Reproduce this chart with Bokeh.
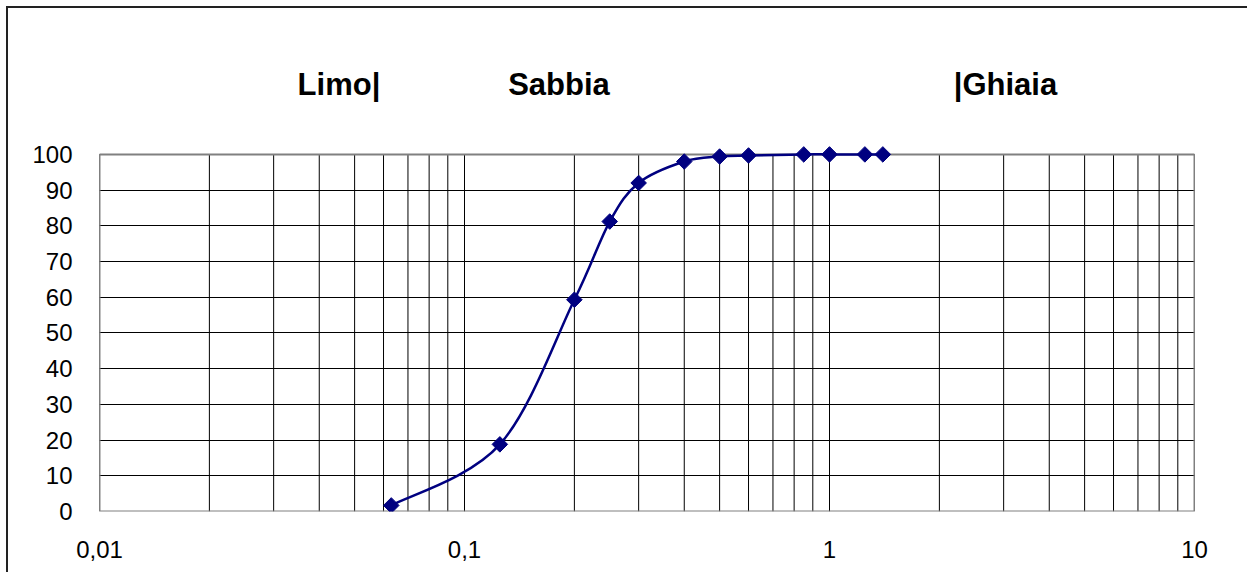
import numpy as np
from bokeh.plotting import figure
from bokeh.models import FixedTicker, Range1d
from bokeh.core.properties import value
from bokeh.embed import file_html
from bokeh.resources import INLINE

# --- data ---
diameters = [0.063, 0.125, 0.2, 0.25, 0.3, 0.4, 0.5, 0.6, 0.85, 1.0, 1.25, 1.4]
passing = [1.7, 18.8, 59.3, 81.2, 92.0, 98.0, 99.4, 99.7, 100.0, 100.0, 100.0, 100.0]
x_ticks = [0.01, 0.1, 1, 10]
x_tick_labels = ["0,01", "0,1", "1", "10"]
y_ticks = list(range(0, 101, 10))
zone_labels = ["Limo|", "Sabbia", "|Ghiaia"]
zone_label_x = [0.0453, 0.1815, 3.035]

FONT = "Liberation Sans"
NAVY = "#000080"
X_MIN, X_MAX, Y_MIN, Y_MAX = 0.01, 10, 0, 100
Y_TOP = 143.1  # extra room above the plot box for the zone labels

p = figure(width=1247, height=572, x_axis_type="log",
           x_range=Range1d(X_MIN, X_MAX), y_range=Range1d(Y_MIN, Y_TOP),
           output_backend="svg", toolbar_location=None,
           min_border_left=99, min_border_right=53,
           min_border_top=0, min_border_bottom=61)
# outer chart border (top and left edges visible), drawn as element background
p.styles = {
    "background": ("linear-gradient(#222,#222) 6px 6px / 100% 2px no-repeat, "
                   "linear-gradient(#222,#222) 6px 6px / 2px 100% no-repeat, white"),
}

p.background_fill_color = None
p.border_fill_color = None
p.outline_line_color = None

# grid
grid_x = []
for dec in [0.01, 0.1, 1]:
    for m in range(1, 10):
        grid_x.append(dec * m)
grid_x.append(10)
p.xgrid.visible = False
p.ygrid.ticker = FixedTicker(ticks=y_ticks)
p.ygrid.grid_line_color = "black"
p.ygrid.grid_line_width = 1
p.segment(x0=grid_x, y0=[Y_MIN] * len(grid_x), x1=grid_x, y1=[Y_MAX] * len(grid_x),
          line_color="black", line_width=1)
p.quad(left=[X_MIN], right=[X_MAX], bottom=[Y_MIN], top=[Y_MAX],
       fill_color=None, line_color="#808080", line_width=2)

# axes
p.xaxis.ticker = FixedTicker(ticks=x_ticks)
p.xaxis.major_label_overrides = {t: l for t, l in zip(x_ticks, x_tick_labels)}
p.yaxis.ticker = FixedTicker(ticks=y_ticks)
for ax in (p.xaxis, p.yaxis):
    ax.axis_line_color = None
    ax.major_tick_line_color = None
    ax.minor_tick_line_color = None
    ax.major_label_text_font = FONT
    ax.major_label_text_font_size = "24px"
    ax.major_label_text_color = "black"
p.xaxis.major_label_standoff = 23
p.yaxis.major_label_standoff = 21

# smoothed curve (Catmull-Rom -> cubic Bezier in log-x / linear-y space)
lx = np.log10(np.array(diameters))
yy = np.array(passing)
n = len(lx)
x0, y0, x1, y1, cx0, cy0, cx1, cy1 = [], [], [], [], [], [], [], []
for i in range(n - 1):
    i0 = max(i - 1, 0)
    i3 = min(i + 2, n - 1)
    ax_, ay_ = lx[i], yy[i]
    bx_, by_ = lx[i + 1], yy[i + 1]
    c1x = ax_ + (bx_ - lx[i0]) / 6.0
    c1y = ay_ + (by_ - yy[i0]) / 6.0
    c2x = bx_ - (lx[i3] - ax_) / 6.0
    c2y = by_ - (yy[i3] - ay_) / 6.0
    x0.append(10 ** ax_); y0.append(ay_)
    x1.append(10 ** bx_); y1.append(by_)
    cx0.append(10 ** c1x); cy0.append(c1y)
    cx1.append(10 ** c2x); cy1.append(c2y)

p.bezier(x0=x0, y0=y0, x1=x1, y1=y1, cx0=cx0, cy0=cy0, cx1=cx1, cy1=cy1,
         line_color=NAVY, line_width=2.5)
p.scatter(diameters, passing, marker="square", angle=np.pi / 4, size=11,
          fill_color=NAVY, line_color=NAVY, line_width=1)

# zone labels
p.text(x=zone_label_x, y=[119.7] * len(zone_labels), text=zone_labels,
       text_font=value(FONT), text_font_size="31px", text_font_style="bold",
       text_align="center", text_baseline="alphabetic", text_color="black")

open("out.html", "w").write(file_html(p, INLINE))
